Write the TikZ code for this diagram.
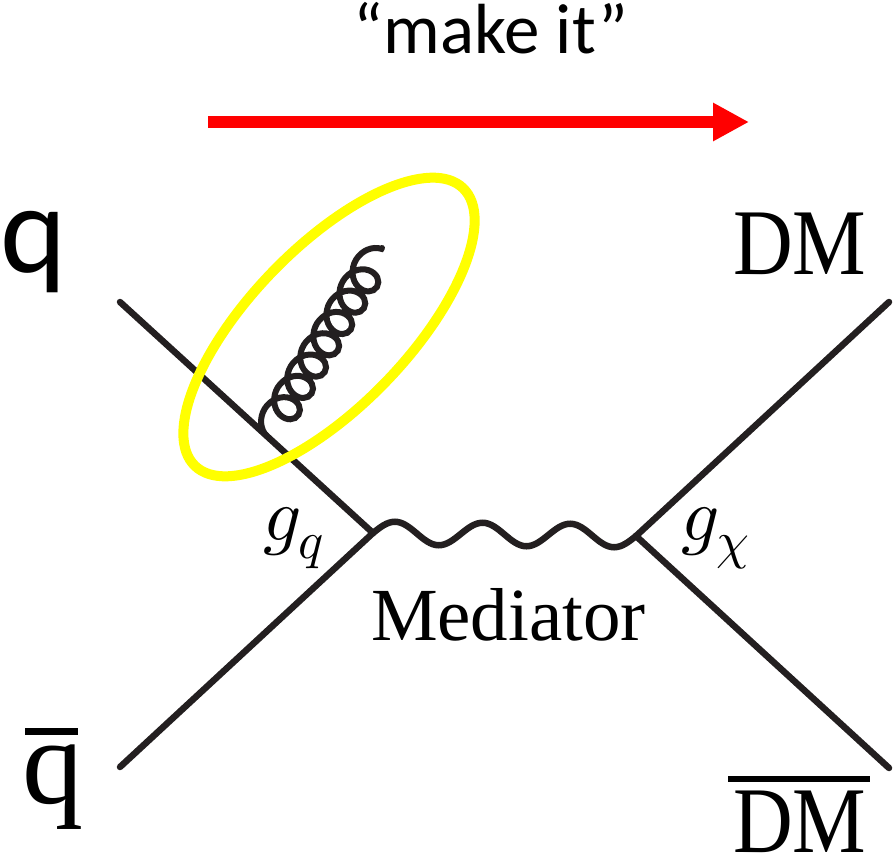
\documentclass[tikz,border=0pt]{standalone}
\usepackage{fontspec}
\usepackage{unicode-math}
\setmathfont{Latin Modern Math}
\newfontfamily\carlito{Carlito}
\newfontfamily\libser{Liberation Serif}
\usetikzlibrary{decorations.pathmorphing,arrows.meta,calc}
\definecolor{ink}{RGB}{35,31,32}
\definecolor{hlyellow}{RGB}{255,255,0}
\begin{document}
\begin{tikzpicture}[x=1pt,y=-1pt,
  fermion/.style={draw=ink,line width=6.5pt,line cap=round},
  boson/.style={draw=ink,line width=6.5pt,line cap=round},
  gluon/.style={draw=ink,line width=6pt,line cap=round,decorate,decoration={coil,amplitude=16pt,segment length=25pt,aspect=1}},
  lbl/.style={inner sep=0pt,outer sep=0pt,anchor=base west,text depth=0pt},
]
\useasboundingbox (0,0) rectangle (894,864);
\coordinate (A) at (120,302);
\coordinate (B) at (120,767);
\coordinate (V1) at (373,533);
\coordinate (V2) at (636,536);
\coordinate (C) at (889,302);
\coordinate (D) at (889,768);
\coordinate (E) at (329,327);
\coordinate (R0) at (208,122);
\coordinate (R1) at (749,122);
\draw[fermion] (A) -- (V1);
\draw[fermion] (B) -- (V1);
\draw[fermion] (V2) -- (C);
\draw[fermion] (V2) -- (D);
% wave (mediator)
\foreach \k in {1,5,9} {\coordinate (W\k) at ($($(V1)!\k/12!(V2)$)+(0,-11.5)$);}
\foreach \k in {3,7,11} {\coordinate (W\k) at ($($(V1)!\k/12!(V2)$)+(0,11.5)$);}
\foreach \k in {2,4,6,8,10} {\coordinate (W\k) at ($(V1)!\k/12!(V2)$);}
\draw[boson] (V1) sin (W1) cos (W2) sin (W3) cos (W4) sin (W5) cos (W6)
  sin (W7) cos (W8) sin (W9) cos (W10) sin (W11) cos (V2);
\coordinate (G0) at ($(A)!0.58!(V1)$);
\coordinate (G1) at (382,248);
\draw[gluon] (G0) -- (G1);
\draw[hlyellow,line width=10pt,rotate around={46:(E)}] (E) ellipse [x radius=193, y radius=79];
\draw[red,line width=12pt,-{Triangle[length=36pt,width=36pt]}] (R0) -- (R1);
\node[inner sep=0pt,anchor=base,font=\carlito\fontsize{71}{75}\selectfont] (mk) at (491,54) {“make it”};
\node[lbl,font=\carlito\fontsize{126}{130}\selectfont] (q) at (1,272) {q};
\node[lbl,font=\libser\fontsize{122}{130}\selectfont] (qbar) at (22,803) {\makebox[0pt][l]{\hspace{3pt}\rule[68pt]{53pt}{7pt}}q};
\node[lbl,font=\libser\fontsize{94}{100}\selectfont] (dm) at (733,274) {\scalebox{0.88}[1]{DM}};
\node[lbl,font=\libser\fontsize{94}{100}\selectfont] (dmbar) at (733,852) {\makebox[0pt][l]{\hspace{-5pt}\rule[70pt]{142pt}{6pt}}\scalebox{0.88}[1]{DM}};
\node[lbl,font=\fontsize{75}{80}\selectfont] (gq) at (263,540) {$g_q$};
\node[lbl,font=\fontsize{75}{80}\selectfont] (gchi) at (681,540) {$g_\chi$};
\node[lbl,font=\libser\fontsize{75}{80}\selectfont] (med) at (371,640) {Mediator};
\end{tikzpicture}
\end{document}
